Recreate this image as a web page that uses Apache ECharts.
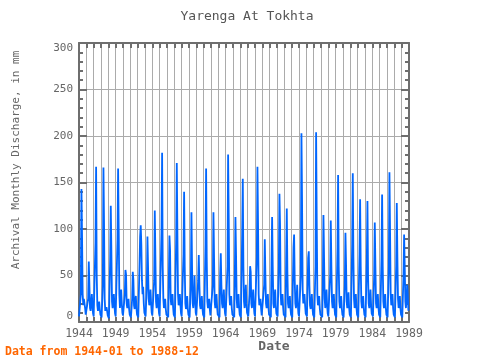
<!DOCTYPE html>
<html><head><meta charset="utf-8">
<script src="https://cdn.jsdelivr.net/npm/echarts@6/dist/echarts.min.js"></script>
<style>html,body{margin:0;padding:0;background:#fff}#c{width:480px;height:360px}</style>
</head><body><div id="c"></div>
<script>
const startYear = 1944;
const xTicks = [1944,1949,1954,1959,1964,1969,1974,1979,1984,1989];
const yTicks = [0,50,100,150,200,250,300];
// monthly discharge (mm), one row per year Jan..Dec
const y1944 = [6,5,5,30,143,92,30,18,25,27,15,8];
const y1945 = [7,6,6,25,65,40,15,12,20,30,18,9];
const y1946 = [6,5,5,86,167,50,18,12,15,22,14,8];
const y1947 = [6,5,5,40,166,105,25,12,14,16,12,7];
const y1948 = [5,4,4,67,125,76,22,15,20,30,18,9];
const y1949 = [6,5,5,89,165,98,30,15,25,35,20,10];
const y1950 = [7,6,5,30,56,51,20,15,20,25,14,8];
const y1951 = [6,5,5,25,54,45,18,14,22,28,15,8];
const y1952 = [6,5,5,60,92,104,83,45,30,38,20,10];
const y1953 = [8,6,6,40,92,60,25,18,22,35,20,10];
const y1954 = [7,6,5,45,120,70,22,15,20,30,18,9];
const y1955 = [6,5,5,97,182,60,25,15,18,25,14,8];
const y1956 = [7,6,5,45,93,78,25,18,20,30,16,8];
const y1957 = [6,5,5,89,171,97,30,18,22,30,18,9];
const y1958 = [6,5,5,73,140,60,20,14,18,28,15,8];
const y1959 = [6,5,5,40,118,60,20,15,25,50,25,10];
const y1960 = [7,6,5,45,72,40,18,14,20,28,15,8];
const y1961 = [6,5,5,84,165,70,22,15,18,25,14,7];
const y1962 = [6,5,5,40,118,70,22,15,20,30,16,8];
const y1963 = [7,6,5,52,74,40,20,15,22,35,18,9];
const y1964 = [6,5,5,60,180,112,30,18,20,28,15,8];
const y1965 = [7,6,5,50,113,72,25,15,20,30,16,8];
const y1966 = [6,5,5,95,154,60,22,15,25,40,20,10];
const y1967 = [8,6,6,30,60,54,20,15,25,35,18,9];
const y1968 = [6,5,5,70,167,104,30,18,20,25,14,7];
const y1969 = [6,5,5,40,89,50,20,15,22,30,16,8];
const y1970 = [7,6,5,63,113,60,20,15,25,35,18,9];
const y1971 = [7,6,5,60,138,104,30,18,22,30,16,8];
const y1972 = [7,6,5,69,122,55,20,15,20,28,15,8];
const y1973 = [6,5,5,80,94,45,20,15,22,40,20,9];
const y1974 = [6,5,5,50,203,130,35,20,22,30,18,9];
const y1975 = [7,6,5,69,76,40,18,14,20,30,16,8];
const y1976 = [6,5,5,60,204,111,30,18,20,28,15,8];
const y1977 = [7,6,5,40,115,70,25,15,22,35,18,9];
const y1978 = [6,5,5,50,109,60,22,15,20,30,16,8];
const y1979 = [6,5,5,80,158,60,22,15,20,28,15,8];
const y1980 = [6,5,5,40,96,62,22,15,22,32,16,8];
const y1981 = [6,5,5,83,160,70,25,15,22,30,16,8];
const y1982 = [6,5,5,73,132,60,22,15,20,28,15,8];
const y1983 = [6,5,5,67,130,50,20,15,22,35,18,9];
const y1984 = [7,6,5,50,107,61,20,15,22,30,16,8];
const y1985 = [6,5,5,69,137,60,22,15,20,30,16,8];
const y1986 = [6,5,5,60,161,98,30,18,22,30,15,8];
const y1987 = [6,5,5,60,128,70,25,15,20,28,15,8];
const y1988 = [6,5,5,50,94,60,22,15,25,40,30,12];

const years = [y1944,y1945,y1946,y1947,y1948,y1949,y1950,y1951,y1952,y1953,y1954,y1955,y1956,y1957,y1958,y1959,y1960,y1961,y1962,y1963,y1964,y1965,y1966,y1967,y1968,y1969,y1970,y1971,y1972,y1973,y1974,y1975,y1976,y1977,y1978,y1979,y1980,y1981,y1982,y1983,y1984,y1985,y1986,y1987,y1988];
const series = [];
years.forEach((arr, i) => arr.forEach((v, m) => series.push([startYear + i + m / 12, v])));

const FONT = '"DejaVu Sans Mono", monospace';
const chart = echarts.init(document.getElementById('c'), null, {renderer: 'canvas'});
const frame = '#6e6e6e';
const gridC = '#ababab';
const xCommon = {
  type: 'value', min: 1944, max: 1989, interval: 5,
  splitLine: {show: true, lineStyle: {color: gridC, width: 1}},
  minorSplitLine: {show: true, lineStyle: {color: gridC, width: 1}},
  minorTick: {show: true, splitNumber: 5, length: 5, lineStyle: {color: frame, width: 2}},
  axisTick: {show: true, inside: true, length: 5, lineStyle: {color: frame, width: 2}},
  axisLine: {show: true, onZero: false, lineStyle: {color: frame, width: 2}}
};
const yCommon = {
  type: 'value', min: 0, max: 300, interval: 50,
  splitLine: {show: true, lineStyle: {color: gridC, width: 1}},
  minorTick: {show: true, splitNumber: 5, length: 4, lineStyle: {color: frame, width: 2}},
  axisTick: {show: true, inside: true, length: 8, lineStyle: {color: frame, width: 2}},
  axisLine: {show: true, onZero: false, lineStyle: {color: frame, width: 2}}
};
chart.setOption({
  animation: false,
  backgroundColor: '#ffffff',
  grid: {left: 79, right: 71, top: 43, bottom: 38, containLabel: false},
  xAxis: [
    Object.assign({}, xCommon, {position: 'bottom',
      axisLabel: {show: true, margin: 6, color: '#666', fontFamily: FONT, fontSize: 11.5,
        formatter: v => xTicks.includes(v) ? String(v) : ''}}),
    Object.assign({}, xCommon, {position: 'top', axisLabel: {show: false},
      splitLine: {show: false}, minorSplitLine: {show: false}})
  ],
  yAxis: [
    Object.assign({}, yCommon, {position: 'left',
      axisLabel: {show: true, margin: 6, color: '#666', fontFamily: FONT, fontSize: 11,
        verticalAlignMinLabel: 'bottom', verticalAlignMaxLabel: 'top',
        formatter: v => yTicks.includes(v) ? String(v) : ''}}),
    Object.assign({}, yCommon, {position: 'right', axisLabel: {show: false}, splitLine: {show: false}})
  ],
  series: [{
    type: 'line', data: series, xAxisIndex: 0, yAxisIndex: 0,
    showSymbol: false, symbol: 'none',
    lineStyle: {color: '#0066ff', width: 1.8},
    clip: true
  }],
  graphic: [
    {type: 'text', x: 247, y: 17, style: {text: 'Yarenga At Tokhta', fill: '#555', font: '13px ' + FONT, textAlign: 'center', textVerticalAlign: 'middle'}},
    {type: 'text', x: 274, y: 347, style: {text: 'Date', fill: '#666', font: 'bold 13px ' + FONT, textAlign: 'center', textVerticalAlign: 'middle'}},
    {type: 'text', x: 16, y: 160, rotation: Math.PI / 2, style: {text: 'Archival Monthly Discharge, in mm', fill: '#666', font: '11px ' + FONT, textAlign: 'center', textVerticalAlign: 'middle'}},
    {type: 'text', x: 5, y: 352, style: {text: 'Data from 1944-01 to 1988-12', fill: '#ff6600', font: 'bold 11.5px ' + FONT, textAlign: 'left', textVerticalAlign: 'middle'}}
  ]
});
</script></body></html>
